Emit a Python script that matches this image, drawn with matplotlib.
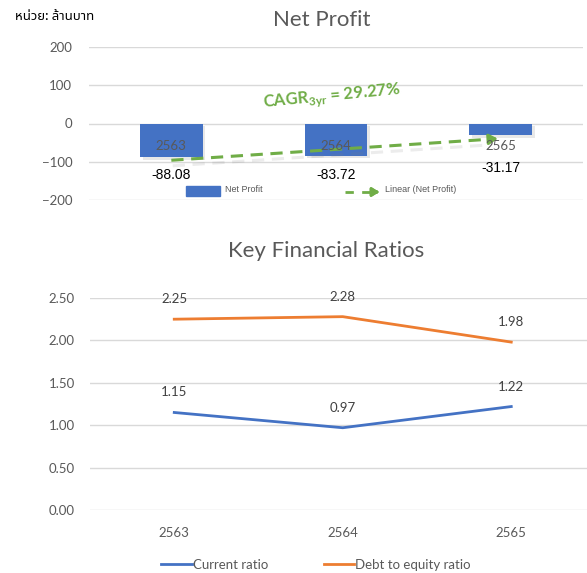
import matplotlib
matplotlib.use("Agg")
import matplotlib.pyplot as plt
import matplotlib.patheffects as pe
from matplotlib import font_manager
from matplotlib.patches import Rectangle
from matplotlib.lines import Line2D
import numpy as np

# data
years = ["2563", "2564", "2565"]
net_profit = [-88.08, -83.72, -31.17]
profit_label_drop = [18, 19, 33]  # px below bar end, as placed in the source
current_ratio = [1.15, 0.97, 1.22]
de_ratio = [2.25, 2.28, 1.98]
cagr_text = "29.27%"
unit_text = "หน่วย: ล้านบาท"

# fonts: Calibri-ish latin + a Thai fallback
names = {f.name for f in font_manager.fontManager.ttflist}
thai = [n for n in ["Noto Sans Thai", "Sarabun", "Noto Sans Thai Looped", "Anuphan"] if n in names]
plt.rcParams["font.family"] = ["Lato"] + thai[:1] + ["DejaVu Sans"]
plt.rcParams["mathtext.fontset"] = "custom"
plt.rcParams["mathtext.bf"] = "Lato:bold"
plt.rcParams["mathtext.rm"] = "Lato"

BLUE = "#4472C4"
ORANGE = "#ED7D31"
GREEN = "#70AD47"
GRID = "#D9D9D9"
TXT = "#595959"

W, H = 587, 573
fig = plt.figure(figsize=(W / 100, H / 100), dpi=100)
fig.patch.set_facecolor("white")

def fx(px):
    return px / W

def fy(py):
    return 1 - py / H

x = np.arange(len(years))

# %% Net profit
ax1 = fig.add_axes([fx(89), fy(200), fx(494), 153 / H])
ax1.set_xlim(-0.5, 2.5)
ax1.set_ylim(-200, 200)
ax1.set_yticks([-200, -100, 0, 100, 200])
ax1.grid(axis="y", color=GRID, lw=1)
ax1.set_axisbelow(True)
for s in ax1.spines.values():
    s.set_visible(False)
ax1.set_xticks([])
ax1.tick_params(axis="y", length=0, pad=12, labelsize=9.5, labelcolor=TXT)

bars = ax1.bar(x, net_profit, width=0.38, color=BLUE, zorder=2)
for b in bars:
    b.set_path_effects([pe.SimplePatchShadow(offset=(2, -2), shadow_rgbFace="gray", alpha=0.18), pe.Normal()])
for i, v in enumerate(net_profit):
    ax1.annotate(f"{v:.2f}", (i, v), xytext=(0, -profit_label_drop[i]),
                 textcoords="offset pixels", ha="center", va="center",
                 fontsize=10, color="black", family=["Liberation Sans"], zorder=5)
    # category label sits on the zero axis, over the bar
    ax1.annotate(years[i], (i, 0), xytext=(0, -22), textcoords="offset pixels",
                 ha="center", va="center", fontsize=9.5, color=TXT, zorder=6)

# linear trend
k, c = np.polyfit(x, net_profit, 1)
tx = np.array([0, 1.93])
ty = k * tx + c
ax1.plot(tx, ty, color=GREEN, lw=2.2, ls=(0, (4, 2.5)), zorder=4,
         path_effects=[pe.SimpleLineShadow(offset=(1, -4), shadow_color="gray", alpha=0.15), pe.Normal()])
ax1.annotate("", xy=(2.0, k * 2 + c), xytext=(1.92, k * 1.92 + c),
             arrowprops=dict(arrowstyle="-|>,head_length=0.5,head_width=0.3", color=GREEN, lw=2.2),
             zorder=4)

ax1.text(0.977, 70, r"CAGR$_{\mathbf{3yr}}$ = " + cagr_text, color=GREEN, fontsize=12,
         fontweight="bold", ha="center", va="center", rotation=5.5, zorder=5)

# legend (drawn by hand, tiny)
fig.add_artist(Rectangle((fx(186), fy(196)), fx(34), 10 / H, color=BLUE, transform=fig.transFigure))
fig.text(fx(225), fy(190), "Net Profit", fontsize=6.5, color=TXT, va="center",
         family=["Liberation Sans"])
fig.add_artist(Line2D([fx(345), fx(372)], [fy(192), fy(192)], color=GREEN, lw=2, ls=(0, (3, 3)),
                      transform=fig.transFigure))
fig.add_artist(plt.annotate("", xy=(fx(382), fy(192)), xytext=(fx(372), fy(192)),
                            xycoords="figure fraction", textcoords="figure fraction",
                            arrowprops=dict(arrowstyle="-|>,head_length=0.4,head_width=0.25",
                                            color=GREEN, lw=2)))
fig.text(fx(385), fy(190), "Linear (Net Profit)", fontsize=6.5, color=TXT, va="center",
         family=["Liberation Sans"])

fig.text(fx(322), fy(20), "Net Profit", fontsize=16, color=TXT, ha="center", va="center")
fig.text(fx(15), fy(16), unit_text, fontsize=9.5, fontweight="semibold", color="black",
         ha="left", va="center")

# %% Key financial ratios
ax2 = fig.add_axes([fx(90), fy(510), fx(505.5), 212 / H])
ax2.set_xlim(-0.5, 2.5)
ax2.set_ylim(0, 2.5)
ax2.set_yticks(np.arange(0, 2.51, 0.5))
ax2.set_yticklabels([f"{v:.2f}" for v in np.arange(0, 2.51, 0.5)])
ax2.grid(axis="y", color=GRID, lw=1)
ax2.set_axisbelow(True)
for s in ax2.spines.values():
    s.set_visible(False)
ax2.set_xticks(x)
ax2.set_xticklabels(years)
ax2.tick_params(axis="x", length=0, pad=12, labelsize=9.5, labelcolor=TXT)
ax2.tick_params(axis="y", length=0, pad=11, labelsize=9.5, labelcolor=TXT)

ax2.plot(x, current_ratio, color=BLUE, lw=2, label="Current ratio", clip_on=False)
ax2.plot(x, de_ratio, color=ORANGE, lw=2, label="Debt to equity ratio", clip_on=False)
for series in (current_ratio, de_ratio):
    for i, v in enumerate(series):
        ax2.annotate(f"{v:.2f}", (i, v), xytext=(0, 20), textcoords="offset pixels",
                     ha="center", va="center", fontsize=9.5, color="#404040")

fig.text(fx(326), fy(251), "Key Financial Ratios", fontsize=16, color=TXT, ha="center", va="center")
fig.legend(*ax2.get_legend_handles_labels(), loc="center", bbox_to_anchor=(fx(316), fy(565)),
           ncol=2, frameon=False, fontsize=9.5, handlelength=2.3, handletextpad=0.1,
           columnspacing=4.2, labelcolor=TXT)

fig.savefig("out.png", dpi=100)
